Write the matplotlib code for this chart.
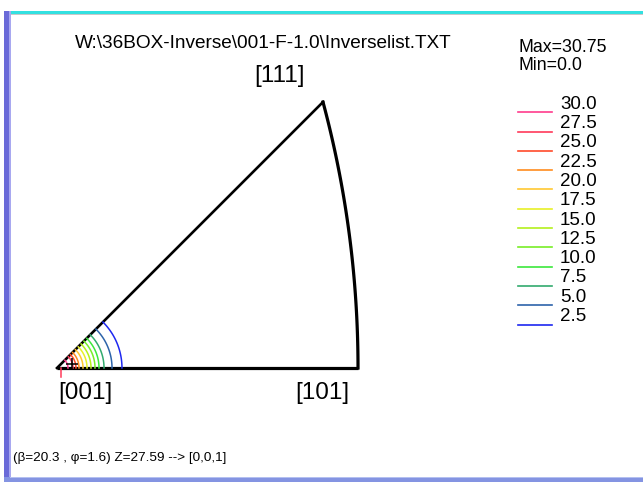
import numpy as np
import matplotlib.pyplot as plt
from matplotlib.patches import Rectangle
from matplotlib.lines import Line2D

plt.rcParams['font.family'] = ['Liberation Sans', 'DejaVu Sans']

W, H = 643, 482

# contour levels, colours and radius of each level around [001] (stereographic units)
levels = [30.0, 27.5, 25.0, 22.5, 20.0, 17.5, 15.0, 12.5, 10.0, 7.5, 5.0, 2.5]
level_colors = ['#ff3c8c', '#ff3a5a', '#ff4a2a', '#ff8c1e', '#ffc832', '#e8f028',
                '#b4f01e', '#78ee28', '#3ce83c', '#32aa6e', '#2e64aa', '#1e28f0']
level_radii = [0.0151, 0.0220, 0.0261, 0.0303, 0.0358, 0.0413,
               0.0468, 0.0523, 0.0578, 0.0647, 0.0757, 0.0894]

max_val, min_val = 30.75, 0.0
title = r'W:\36BOX-Inverse\001-F-1.0\Inverselist.TXT'
status = '(β=20.3 , φ=1.6) Z=27.59 --> [0,0,1]'
cursor = (0.0202, 0.0055)

def stereo(v):
    v = np.asarray(v, float)
    v = v / np.linalg.norm(v, axis=-1, keepdims=True)
    return v[..., 0] / (1 + v[..., 2]), v[..., 1] / (1 + v[..., 2])

def fpx(x, y):
    return x / W, 1 - y / H

fig = plt.figure(figsize=(W / 100, H / 100), dpi=100)
fig.patch.set_facecolor('white')

# axes spanning the whole figure, [001] at pixel (57, 368), 726.7 px per unit
scale = 726.7
ax = fig.add_axes([0, 0, 1, 1])
ax.set_xlim(-57 / scale, (W - 57) / scale)
ax.set_ylim(-(H - 368) / scale, 368 / scale)
ax.axis('off')

# standard triangle
p001 = stereo([0, 0, 1])
p101 = stereo([1, 0, 1])
p111 = stereo([1, 1, 1])
a = np.array([1, 0, 1]) / np.sqrt(2)
b = np.array([1, 1, 1]) / np.sqrt(3)
t = np.linspace(0, 1, 60)[:, None]
arc = stereo(a * (1 - t) + b * t)
ax.plot([p001[0], p101[0]], [p001[1], p101[1]], color='black', lw=2.3, solid_capstyle='butt')
ax.plot(arc[0], arc[1], color='black', lw=2.3)
ax.plot([p001[0], p111[0]], [p001[1], p111[1]], color='black', lw=1.9)

# contours around [001]
ang = np.linspace(0, np.pi / 4, 50)
for r, c in zip(level_radii, level_colors):
    ax.plot(r * np.cos(ang), r * np.sin(ang), color=c, lw=1.1)
ax.plot([0.005, 0.005], [0, -0.0124], color=level_colors[1], lw=1.1)
ax.plot(*cursor, marker='+', color='black', ms=9, mew=1.1)

# pole labels
ax.text(p001[0] + 28 / scale, p001[1] - 25 / scale, '[001]', ha='center', va='center', fontsize=17.5)
ax.text(p101[0] - 36 / scale, p101[1] - 25 / scale, '[101]', ha='center', va='center', fontsize=17.5)
ax.text(p111[0] - 43 / scale, p111[1] + 26 / scale, '[111]', ha='center', va='center', fontsize=17.5)

fig.text(*fpx(263, 43), title, ha='center', va='center', fontsize=13.7)
fig.text(*fpx(518, 48), f'Max={max_val}', ha='left', va='center', fontsize=12.8)
fig.text(*fpx(518, 66), f'Min={min_val}', ha='left', va='center', fontsize=12.8)

# legend
for i, (lv, c) in enumerate(zip(levels, level_colors)):
    y = 112.3 + i * 19.3
    fig.add_artist(Line2D([518 / W, 552 / W], [1 - y / H] * 2, color=c, lw=1.2))
    fig.text(*fpx(560, y - 8), f'{lv:.1f}', ha='left', va='center', fontsize=13.5)

fig.text(*fpx(13, 458), status, ha='left', va='center', fontsize=9.7)

# window frame
def frame_rect(x0, y0, x1, y1, color):
    fig.add_artist(Rectangle((x0 / W, 1 - y1 / H), (x1 - x0) / W, (y1 - y0) / H,
                             transform=fig.transFigure, color=color, lw=0))

frame_rect(4, 11, W, 13.5, '#33e0e0')
frame_rect(10, 13.5, W, 14.5, '#c8c8c8')
frame_rect(4, 11, 9, H, '#6a6ad8')
frame_rect(9, 11, 10.5, H, '#a8a8f0')
frame_rect(4, 477, W, H, '#8494e2')
frame_rect(10, 477, W, 478, '#b4c0f0')

fig.savefig('out.png', dpi=100)
